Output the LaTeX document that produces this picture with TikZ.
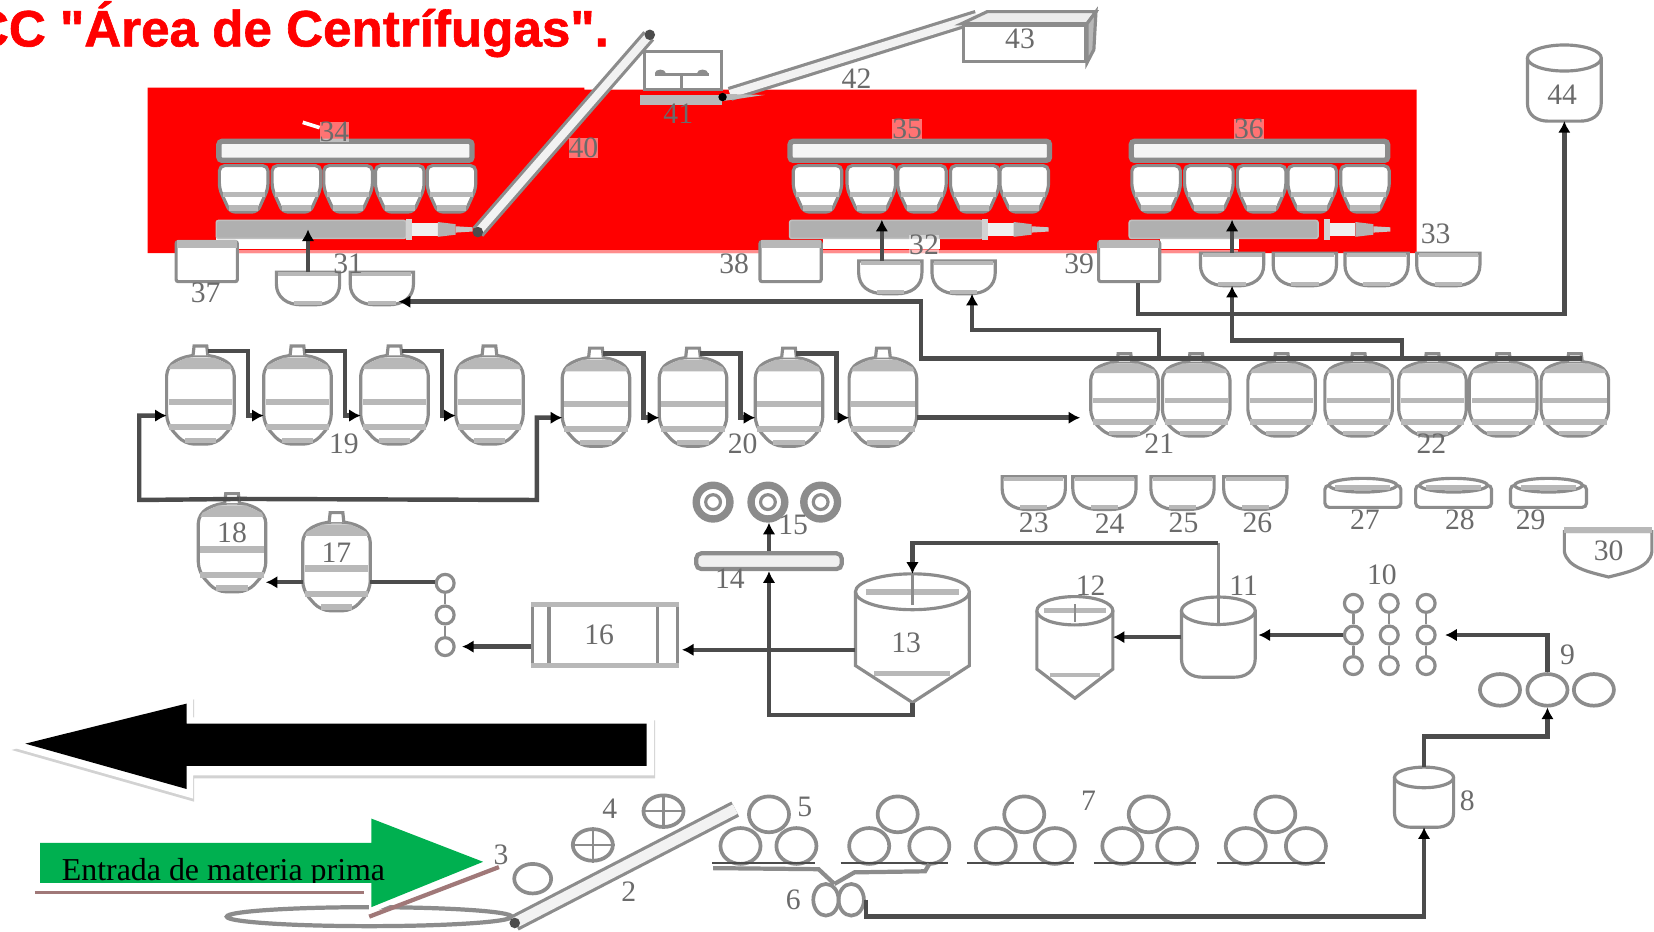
\documentclass[tikz,border=0pt]{standalone}
\usepackage{fontspec}
\newfontfamily\tagfont{Liberation Serif}
\newfontfamily\headfont{Liberation Sans}[BoldFeatures = {FakeBold = 1.2}]
\usetikzlibrary{arrows.meta, shapes.geometric}
\definecolor{eqcol}{gray}{0.55}
\definecolor{bandcol}{gray}{0.72}
\definecolor{pipecol}{gray}{0.3}
\definecolor{tagcol}{gray}{0.42}
\definecolor{matgreen}{HTML}{00B050}
\definecolor{edgebrown}{HTML}{A07878}
\tikzset{
	eqline/.style = {draw = eqcol, line width = 0.3mm},
	thinline/.style = {draw = eqcol, line width = 0.22mm},
	pipeline/.style = {draw = pipecol, line width = 0.42mm},
	pipe/.style = {pipeline, -{Latex[length = 1.1mm, width = 1.2mm, color = black]}},
	tag/.style = {text = tagcol, font = \tagfont\fontsize{8}{9}\selectfont, inner sep = 0pt},
	redtag/.style = {tag, fill = white, fill opacity = 0.45, text opacity = 1},
	ring/.style = {circle, eqline, minimum size = 1.7mm, inner sep = 0pt},
	bigring/.style = {ellipse, eqline, line width = 0.35mm, minimum width = 3.8mm, minimum height = 3mm, inner sep = 0pt},
	disc/.style = {circle, draw = eqcol, line width = 0.7mm, minimum size = 3.2mm, inner sep = 0pt},
	crate/.style = {rectangle, eqline, fill = white, rounded corners = 0.2mm, minimum width = 5.8mm, minimum height = 3.8mm, inner sep = 0pt},
	topbar/.style = {rectangle, draw = eqcol, line width = 0.5mm, fill = gray!8, rounded corners = 0.3mm, minimum height = 1.8mm, inner sep = 0pt},
	lowbar/.style = {rectangle, draw = gray!50, fill = gray!62, rounded corners = 0.2mm, minimum height = 1.7mm, inner sep = 0pt},
	belt/.style = {draw = eqcol, line width = 0.3mm, double = gray!10, double distance = 0.75mm},
	basket/.pic = {
		\draw [eqline, fill = white, rounded corners = 0.5mm] (-23,-22) -- (23,-22) -- (23,0) -- (13,22) -- (-13,22) -- (-23,0) -- cycle;
		\fill [bandcol] (-20,3) rectangle (20,8);
		\fill [bandcol] (-14,15) rectangle (14,21);
	},
	spout/.pic = {
		\fill [gray!35] (0,-10) rectangle (6,10);
		\fill [gray!12] (6,-6) rectangle (30,6);
		\fill [gray!60] (30,-7) -- (47,-5) -- (47,5) -- (30,7) -- cycle;
		\fill [gray!45] (47,-3) -- (63,-2) -- (63,2) -- (47,3) -- cycle;
	},
	bowl/.pic = {
		\draw [eqline, fill = white] (-30,-15) -- (30,-15) -- (30,-4) .. controls (30,9) and (20,16) .. (6,16) -- (-6,16) .. controls (-20,16) and (-30,9) .. (-30,-4) -- cycle;
		\fill [bandcol] (-28,-15) rectangle (28,-11);
		\fill [bandcol] (-13,12) rectangle (13,16);
		\coordinate (-top) at (0,-15);
		\coordinate (-bot) at (0,16);
		\coordinate (-port) at (16,13);
	},
	tank/.pic = {
		\draw [eqline, fill = white, rounded corners = 0.9mm] (-32,-27) -- (-14,-37) -- (14,-37) -- (32,-27) -- (32,28) -- (15,47) -- (-15,47) -- (-32,28) -- cycle;
		\fill [bandcol] (-28,-28) -- (-13,-35) -- (13,-35) -- (28,-28) -- (30,-24) -- (-30,-24) -- cycle;
		\fill [bandcol] (-30,4) rectangle (30,10);
		\fill [bandcol] (-30,28) rectangle (30,34);
		\fill [bandcol] (-15,41) rectangle (15,46);
		\draw [eqline, fill = white] (-7,-37) -- (-6,-46) -- (6,-46) -- (7,-37);
		\coordinate (-neck) at (7,-41);
		\coordinate (-in) at (-32,20);
		\coordinate (-out) at (32,20);
	},
	hopper/.pic = {
		\draw [eqline, fill = white] (-54,0) -- (-54,70) -- (0,105) -- (54,70) -- (54,0);
		\draw [eqline, fill = white] (0,0) ellipse (5.4mm and 1.7mm);
		\fill [bandcol] (-44,-3) rectangle (44,3);
		\fill [bandcol] (-36,75) rectangle (36,80);
		\coordinate (-top) at (0,-17);
		\coordinate (-bot) at (0,105);
		\coordinate (-left) at (-54,55);
		\coordinate (-right) at (54,55);
	},
	drum/.pic = {
		\draw [eqline, fill = white] (-35,0) -- (-35,45) .. controls (-35,58) and (-25,63) .. (-15,63) -- (15,63) .. controls (25,63) and (35,58) .. (35,45) -- (35,0);
		\draw [eqline, fill = white] (0,0) ellipse (3.5mm and 1.3mm);
		\coordinate (-north) at (0,-13);
		\coordinate (-south) at (0,63);
		\coordinate (-east) at (35,25);
		\coordinate (-west) at (-35,25);
	},
	tray/.pic = {
		\draw [eqline, fill = white, rounded corners = 0.4mm] (-36,-8) -- (36,-8) -- (36,13) -- (-36,13) -- cycle;
		\draw [eqline, fill = white] (0,-8) ellipse (3.2mm and 0.65mm);
		\fill [bandcol] (-26,-8) rectangle (26,-3);
	}
}
\begin{document}
\begin{tikzpicture}[x = 0.1mm, y = -0.1mm]
	\useasboundingbox (0,0) rectangle (1568,883);
	\clip (0,0) rectangle (1568,883);
	\fill [white] (0,0) rectangle (1568,883);
	\node [anchor = base east, text = red, inner sep = 0pt, font = \headfont\bfseries\fontsize{13.8}{15}\selectfont] (title) at (578,44) {CC "Área de Centrífugas".};
	% red area
	\fill [red] (140,83) -- (554,83) -- (554,85) -- (1343,85) -- (1343,240) -- (140,240) -- cycle;
	\fill [white] (205,226) rectangle (291,236);
	\fill [white] (780,226) rectangle (891,236);
	\fill [white] (1100,226) rectangle (1175,236);
	\fill [red!45] (225,237) rectangle (1174,240);
	% centrifuges
	\node [topbar, minimum width = 24mm] (top34) at (327.5,143) {};
	\node [topbar, minimum width = 24.6mm] (top35) at (872,143) {};
	\node [topbar, minimum width = 24.3mm] (top36) at (1194,143) {};
	\node [lowbar, minimum width = 18mm] (low34) at (295,217.5) {};
	\node [lowbar, minimum width = 18.3mm] (low35) at (840,217.5) {};
	\node [lowbar, minimum width = 17.9mm] (low36) at (1160,217.5) {};
	\foreach \px in {231,281,330,379,428,775,826,874,924,971,1096,1146,1196,1244,1294}
		\pic at (\px,179) {basket};
	\pic at (385,217.5) {spout};
	\pic at (931,217.5) {spout};
	\pic at (1255,217.5) {spout};
	% crates and bowls under the red area
	\node [crate] (c37) at (196,248) {};
	\node [crate] (c38) at (749.5,248) {};
	\node [crate] (c39) at (1070.5,248) {};
	\foreach \cn in {c37,c38,c39}
		\fill [bandcol] ([xshift = 0.2mm]\cn.north west) rectangle ([xshift = -0.2mm, yshift = -0.8mm]\cn.north east);
	\foreach \nm/\px/\py in {31a/292/273, 31b/362/273, 32a/844/262.5, 32b/913.5/262.5, 33a/1168/255, 33b/1237/255, 33c/1305/255, 33d/1373/255, 23/980/467, 24/1047/467, 25/1121/467, 26/1190/467}
		\pic (b\nm) at (\px,\py) {bowl};
	\foreach \px in {1292,1378,1468}
		\pic at (\px,468) {tray};
	\draw [eqline, fill = white] (1483,504) -- (1566,504) -- (1566,523) .. controls (1564,538) and (1545,542) .. (1525,547) .. controls (1505,542) and (1486,538) .. (1483,523) -- cycle;
	\fill [bandcol] (1483,500) rectangle (1566,505);
	% feed belts
	\draw [belt] (453,220) -- (615,34);
	\draw [belt] (692,89) -- (926,16);
	\fill [pipecol] (453,220) circle (0.5mm);
	\fill [pipecol] (616,33) circle (0.5mm);
	\node [rectangle, eqline, fill = white, minimum width = 7.3mm, minimum height = 3.6mm, inner sep = 0pt] (c41) at (647.5,67) {};
	\draw [eqline] (621,71) -- (672,71);
	\draw [eqline] (646,71) -- (646,85);
	\fill [eqcol] (626,69) ellipse (0.5mm and 0.3mm);
	\fill [eqcol] (666,69) ellipse (0.5mm and 0.3mm);
	\fill [bandcol] (607,90) rectangle (684,100);
	\fill [bandcol] (684,89) -- (725,90) -- (684,96) -- cycle;
	\fill [black] (685,92) circle (0.4mm);
	\node [rectangle, eqline, fill = white, minimum width = 11.6mm, minimum height = 3.4mm, inner sep = 0pt] (c43) at (971,41) {};
	\draw [eqline, fill = gray!15] (c43.north west) -- (936,11) -- (1039,11) -- (c43.north east) -- cycle;
	\draw [eqline, fill = bandcol] (c43.north east) -- (1039,11) -- (1037,47) -- (c43.south east) -- cycle;
	\pic [yscale = 0.95] (v44) at (1483,55) {drum};
	% fermenters
	\foreach \nm/\px in {a/190,b/282,c/374,d/464}
		\pic (t19\nm) at (\px,374) {tank};
	\foreach \nm/\px in {a/565,b/657,c/748,d/837}
		\pic (t20\nm) at (\px,376) {tank};
	\foreach \nm/\px in {a/1066,b/1134,c/1215,d/1288,e/1358,f/1425,g/1493}
		\pic [yscale = 0.84] (t21\nm) at (\px,374) {tank};
	\pic (t18) at (220,514) {tank};
	\pic (t17) at (319,532) {tank};
	% process vessels
	\node [rectangle, eqline, minimum width = 13.7mm, minimum height = 6mm, inner sep = 0pt] (b16) at (573.5,602) {};
	\draw [eqline] ([xshift = 1.7mm]b16.north west) -- ([xshift = 1.7mm]b16.south west);
	\draw [eqline] ([xshift = -2mm]b16.north east) -- ([xshift = -2mm]b16.south east);
	\fill [bandcol] (b16.north west) rectangle ([yshift = -0.5mm]b16.north east);
	\fill [bandcol] ([yshift = 0.5mm]b16.south west) rectangle (b16.south east);
	\node [rectangle, draw = eqcol, line width = 0.4mm, fill = gray!12, rounded corners = 0.5mm, minimum width = 13.8mm, minimum height = 1.5mm, inner sep = 0pt] (b14) at (729,532) {};
	\pic (h13) at (865,561) {hopper};
	\pic [xscale = 0.667, yscale = 0.79] (h12) at (1019,579) {hopper};
	\pic (v11) at (1155,579) {drum};
	\pic [xscale = 0.8, yscale = 0.75] (v8) at (1350,737) {drum};
	% rings
	\foreach \nm/\px in {a/676,b/728,c/778}
		\node [disc] (r15\nm) at (\px,476) {};
	\foreach \nm in {a,b,c}
		\draw [eqline] (r15\nm) circle (0.7mm);
	\node [ring] (r17a) at (422,553) {};
	\node [ring] (r17b) at (422,583) {};
	\node [ring] (r17c) at (422,613) {};
	\draw [thinline] (r17a) -- (r17b);
	\draw [thinline] (r17b) -- (r17c);
	\foreach \nm/\px in {a/1283,b/1317,c/1352} {
		\node [ring] (r10\nm1) at (\px,572) {};
		\node [ring] (r10\nm2) at (\px,602) {};
		\node [ring] (r10\nm3) at (\px,631) {};
		\draw [thinline] (r10\nm1) -- (r10\nm2);
		\draw [thinline] (r10\nm2) -- (r10\nm3);
	}
	\node [bigring] (r9a) at (1422,654) {};
	\node [bigring] (r9b) at (1467,654) {};
	\node [bigring] (r9c) at (1511,654) {};
	\foreach \nm/\tx/\lx/\rx in {a/729/702/755, b/851/824/881, c/971/944/1000, d/1089/1064/1116, e/1209/1181/1238} {
		\node [bigring, minimum height = 3.4mm] (pt\nm) at (\tx,772) {};
		\node [bigring, minimum height = 3.4mm] (pl\nm) at (\lx,802) {};
		\node [bigring, minimum height = 3.4mm] (pr\nm) at (\rx,802) {};
		\draw [pipeline, line width = 0.25mm] ({\lx-27},818) -- ({\rx+18},818);
	}
	\draw [thinline, line width = 0.4mm] (676,823) -- (776,824) -- (791,838);
	\draw [thinline, line width = 0.4mm] (881,819) -- (877,826) -- (810,827) -- (791,838);
	\node [bigring, minimum width = 2.4mm] (r6a) at (783,853) {};
	\node [bigring, minimum width = 2.4mm] (r6b) at (807,853) {};
	\node [bigring, minimum width = 3.5mm, minimum height = 2.8mm] (r3) at (505,833) {};
	\node [bigring, minimum height = 3mm] (r4a) at (562,801) {};
	\node [bigring, minimum height = 3mm] (r4b) at (629,769) {};
	\foreach \nm in {r4a,r4b} {
		\draw [thinline] (\nm.north) -- (\nm.south);
		\draw [thinline] (\nm.west) -- (\nm.east);
	}
	\draw [eqline, line width = 0.4mm] (350,869) ellipse (13.5mm and 0.9mm);
	\draw [belt, line width = 0.3mm, double distance = 1mm] (488,875) -- (697,767);
	\fill [pipecol] (488,875) circle (0.5mm);
	% connections
	\draw [pipe] (b31a-top) -- (b31a-top |- low34.center);
	\draw [pipe] ([xshift = -0.8mm]b32a-top) -- ([xshift = -0.8mm]b32a-top |- low35.north);
	\draw [pipe] (b33a-top) -- (b33a-top |- low36.north);
	\coordinate (j1) at (873,340);
	\coordinate (j2) at (1099,340);
	\coordinate (j3) at (1329,340);
	\draw [pipe] (j1 -| t21g-neck) -- (j1) |- (b31b-port);
	\draw [pipe] (j2) -- ++(0,-27) -| ([xshift = 0.8mm]b32b-bot);
	\draw [pipe] (j3) -- ++(0,-17) -| (b33a-bot);
	\draw [pipe] ([xshift = 0.85mm]c39.south) -- ++(0,29) -| (v44-south);
	\foreach \aa/\bb in {t19a/t19b, t19b/t19c, t19c/t19d, t20a/t20b, t20b/t20c, t20c/t20d}
		\draw [pipe] (\aa-neck) -- ++(38,0) |- (\bb-in);
	\coordinate (j4) at (132,474);
	\coordinate (j5) at (509,474);
	\draw [pipe] (t18-neck) -- (j4) |- (t19a-in);
	\draw [pipe] (t18-neck) -- (j5) |- (t20a-in);
	\draw [pipe, shorten > = 1mm] (t20d-out) -- (t20d-out -| t21a-in);
	\draw [pipe] (t17-in) -- (t17-in -| t18-out);
	\draw [pipeline] (t17-out) -- (t17-out -| r17a.west);
	\draw [pipe, shorten > = 0.6mm] ([yshift = -1.1mm]b16.west) -- ([yshift = -1.1mm]b16.west -| r17c.east);
	\draw [pipe, shorten > = 0.3mm] (h13-left) -- (h13-left -| b16.east);
	\draw [pipe] (h13-bot) -- ++(0,12) -| (b14.south);
	\draw [pipe] (b14.north) -- (b14.north |- r15b.south);
	\coordinate (j6) at (1155,515);
	\coordinate (j7) at (1155,591);
	\draw [thinline] (j7) -- (j6);
	\draw [thinline] (h13-top) -- ++(0,30);
	\draw [pipe] (j6) -| (h13-top);
	\draw [thinline] (1019,573) -- (1019,590);
	\draw [pipe] (v11-west) -- (v11-west -| h12-right);
	\draw [pipe, shorten > = 0.3mm] (r10a2.west) -- (r10a2.west -| v11-east);
	\draw [pipe, shorten > = 0.8mm] (r9b) |- (r10c2);
	\draw [pipe] (v8-north) -- ++(0,-29) -| (r9b);
	\draw [pipe] (r6b.east) -- ++(0,16) -| (v8-south);
	% flow arrows
	\fill [gray!35, shift = {(1,3)}] (10,708) -- (183,660) -- (183,680) -- (620,680) -- (620,735) -- (183,735) -- (183,757) -- cycle;
	\fill [white] (10,708) -- (183,660) -- (183,680) -- (620,680) -- (620,735) -- (183,735) -- (183,757) -- cycle;
	\fill [black] (24,705) -- (177,667) -- (177,686) -- (613,686) -- (613,726) -- (177,726) -- (177,748) -- cycle;
	\fill [white] (33,793) -- (350,793) -- (350,768) -- (470,817) -- (350,866) -- (350,846) -- (33,846) -- cycle;
	\draw [edgebrown, line width = 0.25mm] (33,846) -- (345,846);
	\draw [edgebrown, line width = 0.4mm] (350,869) -- (473,822);
	\fill [matgreen] (38,799) -- (352,799) -- (352,776) -- (458,817) -- (352,860) -- (352,837) -- (38,837) -- cycle;
	\begin{scope}
		\clip (38,799) rectangle (400,837);
		\node [anchor = base west, inner sep = 0pt, font = \tagfont\fontsize{8.6}{10}\selectfont] (matname) at (58,835) {Entrada de materia prima};
	\end{scope}
	% labels
	\foreach \txt/\px/\py in {2/596/845, 3/475/810, 4/578/767, 5/763/765, 6/752/853, 7/1032/759, 8/1391/759, 9/1486/621, 10/1310/545, 11/1179/555, 12/1034/555, 13/859/609, 14/692/549, 15/752/498, 16/568/602, 17/319/524, 18/220/505, 19/326/421, 20/704/421, 21/1099/421, 22/1357/421, 23/980/496, 24/1052/496, 25/1122/496, 26/1192/496, 27/1294/493, 28/1384/493, 29/1451/493, 30/1525/522, 31/330/250, 33/1361/222, 37/195/278, 38/696/250, 39/1023/250, 41/643/108, 42/812/75, 43/967/37, 44/1481/90}
		\node [tag] (l\txt) at (\px,\py) {\txt};
	\foreach \txt/\px/\py in {32/876/232, 34/317/125, 35/860/122, 36/1184/122, 40/553/140}
		\node [redtag] (l\txt) at (\px,\py) {\txt};
	\draw [white, line width = 0.35mm] (287,116) -- (303,121);
\end{tikzpicture}
\end{document}
